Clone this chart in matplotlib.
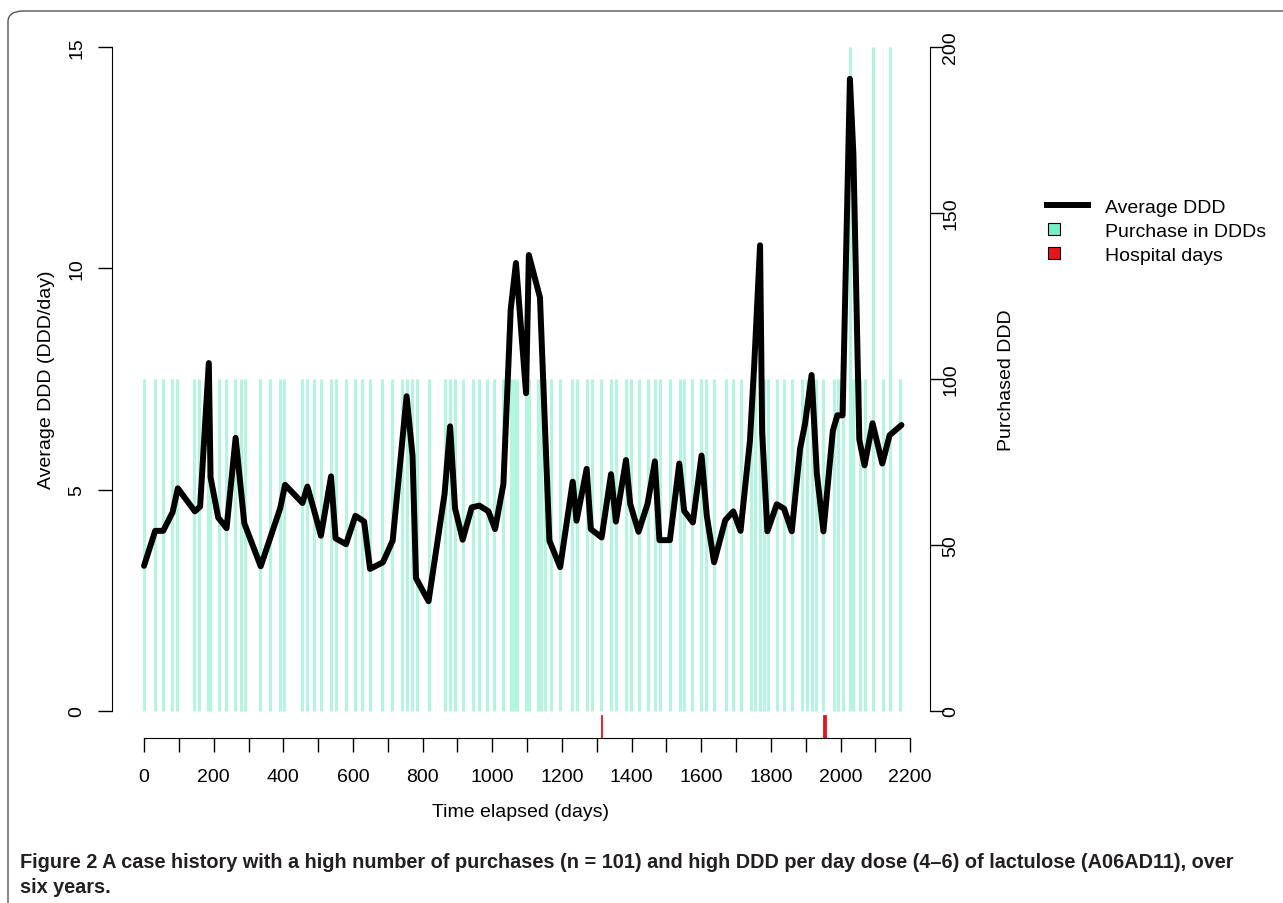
import matplotlib
matplotlib.use("Agg")
import matplotlib.pyplot as plt
from matplotlib.lines import Line2D
from matplotlib.patches import Patch, Rectangle, FancyBboxPatch
from matplotlib.legend_handler import HandlerPatch

plt.rcParams['font.family'] = ['Liberation Sans', 'DejaVu Sans']

# average DDD line (day, DDD/day)
avg_days = [0, 32, 55, 82, 97, 146, 161, 186, 191, 213, 237, 263, 288, 335, 391,
            405, 455, 469, 486, 508, 537, 550, 580, 607, 632, 649, 686, 714, 754,
            771, 781, 817, 863, 879, 893, 915, 941, 963, 989, 1008, 1032, 1053,
            1068, 1097, 1105, 1137, 1164, 1195, 1231, 1242, 1271, 1283, 1314, 1341,
            1355, 1384, 1396, 1420, 1446, 1467, 1480, 1510, 1537, 1551, 1576, 1601,
            1616, 1637, 1669, 1692, 1713, 1740, 1752, 1769, 1775, 1790, 1817, 1838,
            1860, 1884, 1898, 1917, 1932, 1951, 1978, 1991, 2006, 2027, 2037, 2054,
            2069, 2092, 2120, 2141, 2175]
avg_ddd = [3.28, 4.07, 4.07, 4.49, 5.03, 4.51, 4.62, 7.86, 5.28, 4.37, 4.13, 6.17,
           4.24, 3.27, 4.58, 5.11, 4.70, 5.07, 4.60, 3.96, 5.30, 3.90, 3.77, 4.41,
           4.28, 3.21, 3.36, 3.85, 7.11, 5.77, 3.00, 2.48, 4.90, 6.43, 4.58, 3.87,
           4.60, 4.64, 4.51, 4.11, 5.13, 9.08, 10.12, 7.18, 10.30, 9.34, 3.85, 3.25,
           5.18, 4.30, 5.47, 4.11, 3.92, 5.35, 4.28, 5.67, 4.68, 4.05, 4.68, 5.64,
           3.86, 3.86, 5.59, 4.52, 4.26, 5.77, 4.41, 3.36, 4.31, 4.51, 4.07, 6.11,
           7.78, 10.52, 6.30, 4.06, 4.67, 4.57, 4.06, 5.93, 6.48, 7.59, 5.37, 4.06,
           6.33, 6.68, 6.68, 14.28, 12.58, 6.13, 5.55, 6.50, 5.59, 6.23, 6.46]

# purchases (day, purchased DDD)
purchase_days = [0, 32, 54, 80, 94, 144, 158, 184, 190, 214, 236, 262, 278, 290, 333,
                 362, 389, 402, 453, 467, 488, 508, 536, 551, 579, 606, 627, 649, 683,
                 713, 740, 754, 769, 783, 817, 865, 879, 893, 917, 944, 963, 986, 1006,
                 1032, 1053, 1061, 1070, 1097, 1105, 1131, 1140, 1152, 1168, 1195, 1229,
                 1243, 1271, 1286, 1313, 1341, 1355, 1383, 1398, 1420, 1446, 1468, 1482,
                 1509, 1538, 1551, 1574, 1600, 1614, 1636, 1671, 1691, 1714, 1742, 1755,
                 1769, 1779, 1791, 1819, 1839, 1860, 1889, 1903, 1919, 1929, 1951, 1980,
                 1992, 2007, 2028, 2036, 2056, 2071, 2092, 2121, 2141, 2171]
purchase_ddd = [100] * len(purchase_days)
for d in (2028, 2092, 2141):
    purchase_ddd[purchase_days.index(d)] = 200

# hospital stays (start day, end day)
hosp_start = [1313, 1949]
hosp_end = [1315, 1957]

bar_col = '#b4f5e0'
leg_col = '#76eec6'
red = '#e8141c'

fig = plt.figure(figsize=(12.83, 9.04), dpi=100)
ax = fig.add_axes([112/1283, 1-738.6/904, (930-112)/1283, (738.6-21.4)/904])
ax2 = ax.twinx()
ax.set_zorder(2)
ax.patch.set_visible(False)

ax.set_xlim(-92, 2257)
ax.set_ylim(-0.6, 15.6)
ax2.set_ylim(-8, 208)

ax2.vlines(purchase_days, 0, purchase_ddd, color=bar_col, lw=2.2)
ax.plot(avg_days, avg_ddd, color='black', lw=4.3, solid_joinstyle='round',
        solid_capstyle='round')

for s, e in zip(hosp_start, hosp_end):
    ax.add_patch(Rectangle((s, -0.6), e - s, 0.5, facecolor=red, edgecolor=red,
                           lw=0.6, clip_on=False))

for a in (ax, ax2):
    a.spines['top'].set_visible(False)
ax.spines['right'].set_visible(False)
ax2.spines['left'].set_visible(False)
ax2.spines['bottom'].set_visible(False)
ax.spines['left'].set_bounds(0, 15)
ax.spines['bottom'].set_bounds(0, 2200)
ax2.spines['right'].set_bounds(0, 200)

xt = list(range(0, 2201, 100))
ax.set_xticks(xt)
ax.set_xticklabels([str(v) if v % 200 == 0 else '' for v in xt])
ax.set_yticks([0, 5, 10, 15])
ax2.set_yticks([0, 50, 100, 150, 200])
ax.tick_params(axis='x', length=10, width=1, labelsize=14, pad=12)
ax.tick_params(axis='y', length=10, width=1, labelsize=14, pad=9, labelrotation=90)
ax2.tick_params(axis='y', length=10, width=1, labelsize=14, pad=-1, labelrotation=90)
for t in ax.get_yticklabels():
    t.set_va('center')
for t in ax2.get_yticklabels():
    t.set_va('center')

ax.set_xlabel('Time elapsed (days)', fontsize=14, labelpad=13)
ax.set_ylabel('Average DDD (DDD/day)', fontsize=14, labelpad=10)
ax2.set_ylabel('Purchased DDD', fontsize=14, labelpad=28)


def box_handle(legend, orig_handle, xdescent, ydescent, width, height, fontsize):
    side = 12 / 100 * 72
    return Rectangle((-xdescent + 0.1 * side, -ydescent + (height - side) / 2), side, side)


handles = [Line2D([], [], color='black', lw=4.3),
           Patch(facecolor=leg_col, edgecolor='black', lw=0.8),
           Patch(facecolor=red, edgecolor='black', lw=0.8)]
labels = ['Average DDD', 'Purchase in DDDs', 'Hospital days']
fig.legend(handles, labels, loc='upper left',
           bbox_to_anchor=(1047/1283, 1-199/904), bbox_transform=fig.transFigure,
           frameon=False, fontsize=14, handlelength=2.1, handletextpad=0.87,
           labelspacing=0.33, borderpad=0, borderaxespad=0,
           handler_map={Patch: HandlerPatch(patch_func=box_handle)})

cap_font = ['Liberation Sans Narrow', 'Liberation Sans', 'DejaVu Sans']
fig.text(20/1283, 1-863/904,
         'Figure 2 A case history with a high number of purchases (n = 101) and high '
         'DDD per day dose (4\u20136) of lactulose (A06AD11), over',
         family=cap_font, fontweight='bold', fontsize=14.35, va='center', color='#231f20')
fig.text(20/1283, 1-888/904, 'six years.', family=cap_font, fontweight='bold',
         fontsize=14.35, va='center', color='#231f20')

fig.patches.append(FancyBboxPatch((8/1283, -0.05), 1.2, 1 - 12/904 + 0.05,
                                  boxstyle='round,pad=0,rounding_size=0.012',
                                  transform=fig.transFigure, fill=False,
                                  edgecolor='#555555', lw=1))

fig.savefig('out.png', dpi=100)
